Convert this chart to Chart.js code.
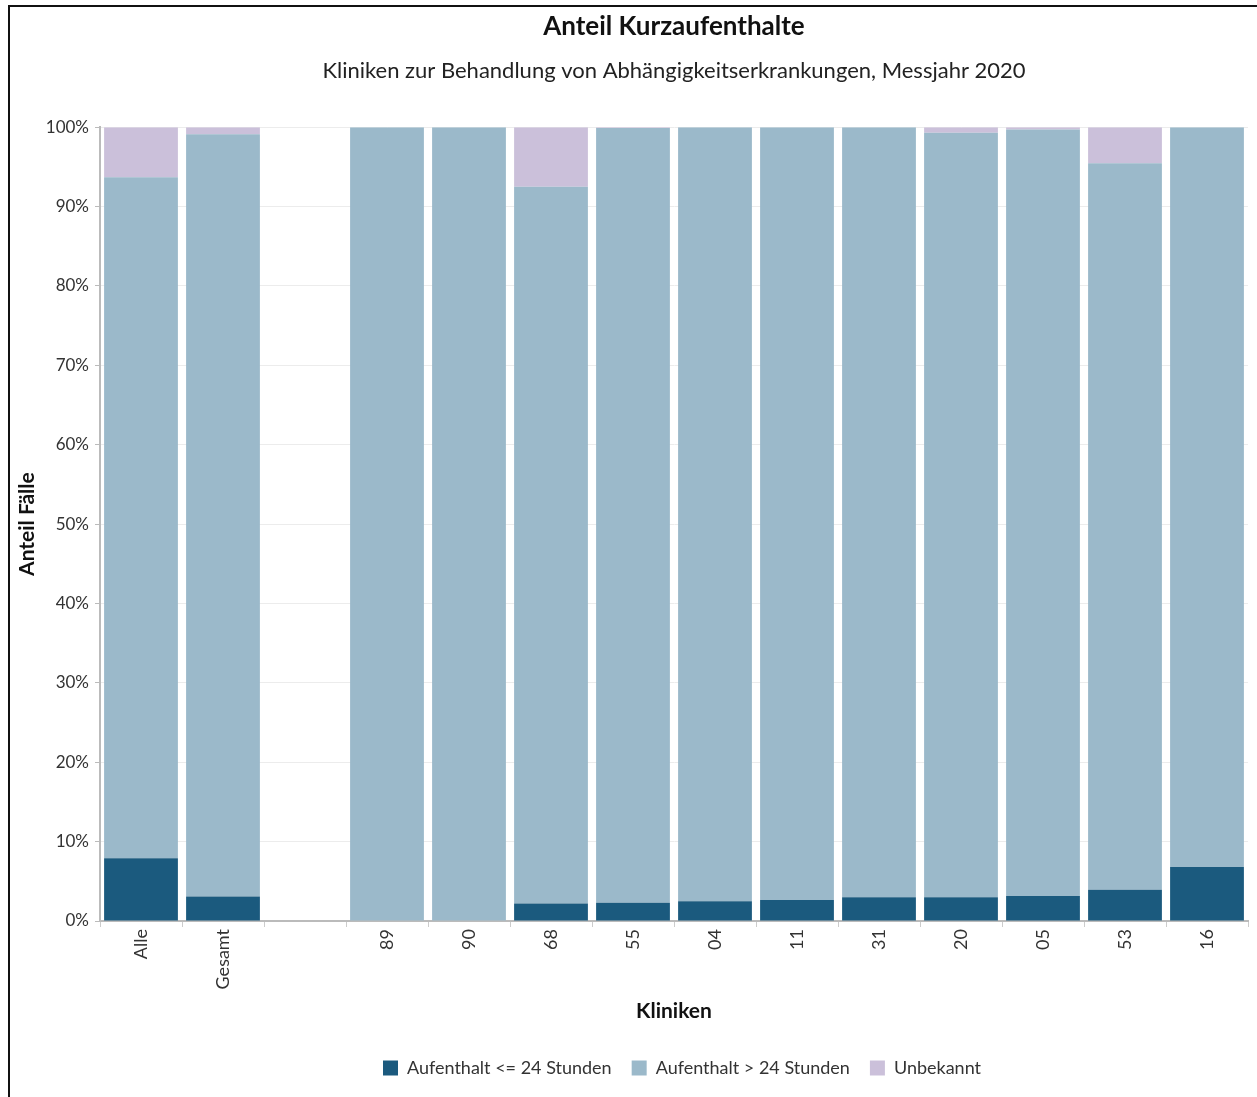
<!DOCTYPE html>
<html>
<head>
<meta charset="utf-8">
<script src="https://cdn.jsdelivr.net/npm/chart.js@4.4.1/dist/chart.umd.min.js"></script>
<style>
html,body{margin:0;padding:0;background:#fff;}
#wrap{position:relative;width:1257px;height:1097px;}
#frame{position:absolute;left:8px;top:5px;right:0;bottom:0;border-left:2px solid #111;border-top:2px solid #111;pointer-events:none;}
canvas{position:absolute;left:0;top:0;}
</style>
</head>
<body>
<div id="wrap"><canvas id="c" width="1257" height="1097"></canvas><div id="frame"></div></div>
<script>
const categories = ['Alle','Gesamt','','89','90','68','55','04','11','31','20','05','53','16'];
const kurz      = [7.9, 3.1, null, 0, 0, 2.2, 2.3, 2.5, 2.65, 3.0, 3.0, 3.15, 3.95, 6.8];
const lang      = [85.8, 96.0, null, 100, 100, 90.3, 97.6, 97.5, 97.35, 97.0, 96.3, 96.55, 91.5, 93.2];
const unbekannt = [6.3, 0.9, null, 0, 0, 7.5, 0.1, 0, 0, 0, 0.7, 0.3, 4.55, 0];
const seriesNames = ['Aufenthalt <= 24 Stunden','Aufenthalt > 24 Stunden','Unbekannt'];
const yTicks = [0,10,20,30,40,50,60,70,80,90,100];

const FONT = 'Lato, "Open Sans", sans-serif';
Chart.defaults.font.family = FONT;
Chart.defaults.color = '#333';

// center title, subtitle and legend over the plot area
const centerOverPlot = {
  id: 'centerOverPlot',
  afterLayout(chart) {
    const ca = chart.chartArea;
    chart.boxes.forEach(b => {
      if (b.options && (b.position === 'top' || b.position === 'bottom') && !b.axis) {
        b.left = ca.left + (b.position === 'bottom' ? 8 : 0);
        b.right = ca.right + (b.position === 'bottom' ? 8 : 0);
      }
    });
  }
};

new Chart(document.getElementById('c'), {
  type: 'bar',
  data: {
    labels: categories,
    datasets: [
      {label: seriesNames[0], data: kurz, backgroundColor: '#1b5a7e'},
      {label: seriesNames[1], data: lang, backgroundColor: '#9bb9ca'},
      {label: seriesNames[2], data: unbekannt, backgroundColor: '#cbc0da'}
    ]
  },
  plugins: [centerOverPlot],
  options: {
    responsive: false,
    animation: false,
    devicePixelRatio: 1,
    layout: {padding: {left: 10, right: 9, top: 8, bottom: 10}},
    datasets: {bar: {barPercentage: 0.9, categoryPercentage: 1.0, borderWidth: 0}},
    plugins: {
      title: {display: true, text: 'Anteil Kurzaufenthalte', font: {size: 26, weight: 'bold'}, color: '#111', padding: {top: 3, bottom: 15.6}},
      subtitle: {display: true, text: 'Kliniken zur Behandlung von Abhängigkeitserkrankungen, Messjahr 2020', font: {size: 22}, color: '#222', padding: {top: 0, bottom: 43}},
      legend: {position: 'bottom', labels: {boxWidth: 15, boxHeight: 15, font: {size: 18}, color: '#333', padding: 20}},
      tooltip: {enabled: false}
    },
    scales: {
      x: {
        stacked: true,
        afterFit: s => { s.height = 118; },
        ticks: {minRotation: 90, maxRotation: 90, font: {size: 18}, color: '#333', padding: 2, autoSkip: false},
        grid: {offset: true, drawOnChartArea: false, tickLength: 6, tickColor: '#ccc'},
        border: {color: '#bbb', width: 2},
        title: {display: true, text: 'Kliniken', font: {size: 21, weight: 'bold'}, color: '#111', padding: {top: 0, bottom: 15}}
      },
      y: {
        stacked: true,
        min: 0, max: 100,
        afterBuildTicks: s => { s.ticks = yTicks.map(v => ({value: v})); },
        afterFit: s => { s.width = 90; },
        ticks: {callback: v => v + '%', font: {size: 17}, color: '#333', padding: 6},
        grid: {color: '#ececec', tickLength: 5, tickColor: '#bbb'},
        border: {color: '#bbb', width: 2},
        title: {display: true, text: 'Anteil Fälle', font: {size: 21, weight: 'bold'}, color: '#111', padding: {top: 5, bottom: 0}}
      }
    }
  }
});
</script>
</body>
</html>
